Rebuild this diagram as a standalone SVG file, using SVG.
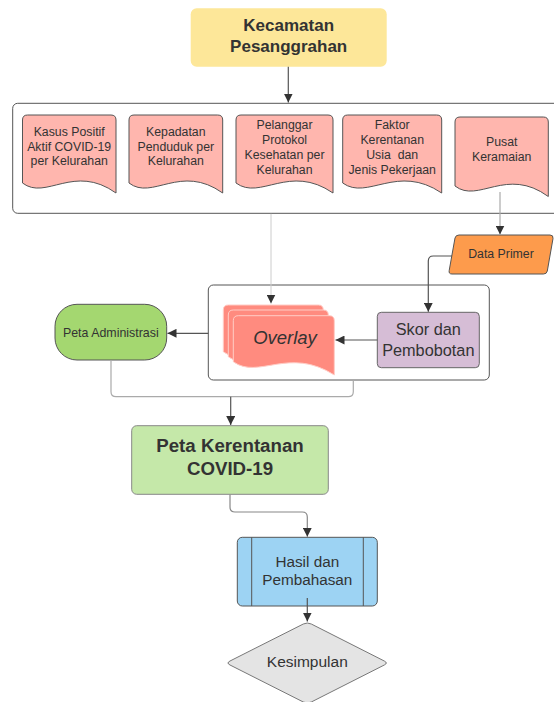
<svg xmlns="http://www.w3.org/2000/svg" width="554" height="702" viewBox="0 0 554 702">
<defs>
<marker id="ah" markerUnits="userSpaceOnUse" markerWidth="10" markerHeight="9" refX="9" refY="4.5" orient="auto">
<path d="M0,0 L9,4.5 L0,9 Z" fill="#333"/>
</marker>
<style>
text{font-family:"Liberation Sans",Arial,sans-serif;fill:#333;text-anchor:middle}
.doc{fill:#ffb6ae;stroke:#555;stroke-width:1}
.dt{font-size:12.3px}
.ov{fill:#ff8b7f;stroke:#ffcdc6;stroke-width:1}
.cont{fill:#fff;stroke:#555;stroke-width:1}
.c{fill:none;stroke:#555;stroke-width:1.2}
.cl{fill:none;stroke:#aaa;stroke-width:1.2}
.cll{fill:none;stroke:#ccc;stroke-width:1}
</style>
</defs>

<g id="container-outer"><rect class="cont" x="12.7" y="103.3" width="560" height="110" rx="5"/></g>
<g id="container-inner"><rect class="cont" x="208.3" y="285" width="281" height="95" rx="5"/></g>

<g id="kecamatan">
<rect x="190.7" y="8.3" width="196" height="58.4" rx="6" fill="#fde799"/>
<text x="288.7" y="31" style="font-size:17px;font-weight:bold">Kecamatan</text>
<text x="288.7" y="52" style="font-size:17px;font-weight:bold">Pesanggrahan</text>
</g>

<g id="doc-kasus">
<path class="doc" d="M22.5,120 Q22.5,115 27.5,115 H111 Q116,115 116,120 V193 C73.9,163 45.9,201 22.5,183 Z"/>
<text class="dt" x="69.2" y="136">Kasus Positif</text>
<text class="dt" x="69.2" y="150.5">Aktif COVID-19</text>
<text class="dt" x="69.2" y="165">per Kelurahan</text>
</g>

<g id="doc-kepadatan">
<path class="doc" d="M129,120 Q129,115 134,115 H217.7 Q222.7,115 222.7,120 V193 C180.5,163 152.4,201 129,183 Z"/>
<text class="dt" x="175.8" y="136">Kepadatan</text>
<text class="dt" x="175.8" y="150.5">Penduduk per</text>
<text class="dt" x="175.8" y="165">Kelurahan</text>
</g>

<g id="doc-pelanggar">
<path class="doc" d="M236,120 Q236,115 241,115 H328 Q333,115 333,120 V193 C289.4,163 260.3,201 236,183 Z"/>
<text class="dt" x="284.5" y="129.3">Pelanggar</text>
<text class="dt" x="284.5" y="144.2">Protokol</text>
<text class="dt" x="284.5" y="159">Kesehatan per</text>
<text class="dt" x="284.5" y="173.8">Kelurahan</text>
</g>

<g id="doc-faktor">
<path class="doc" d="M342.7,120 Q342.7,115 347.7,115 H436.7 Q441.7,115 441.7,120 V193 C397.2,163 367.5,201 342.7,183 Z"/>
<text class="dt" x="392.2" y="129.3">Faktor</text>
<text class="dt" x="392.2" y="144.2">Kerentanan</text>
<text class="dt" x="392.2" y="159" style="white-space:pre">Usia  dan</text>
<text class="dt" x="392.2" y="173.8">Jenis Pekerjaan</text>
</g>

<g id="doc-pusat">
<path class="doc" d="M455,122 Q455,117 460,117 H543.3 Q548.3,117 548.3,122 V196.5 C506.3,166 478.3,204 455,186 Z"/>
<text class="dt" x="501.7" y="146">Pusat</text>
<text class="dt" x="501.7" y="161">Keramaian</text>
</g>

<g id="data-primer">
<path d="M459,235 H550 Q553.5,235 553,238.5 L547.3,271 Q546.7,274 543.5,274 H452 Q448.5,274 449.2,270.5 L455,238 Q455.7,235 459,235 Z" fill="#fd9b4c" stroke="#555" stroke-width="1"/>
<text x="501" y="257.5" style="font-size:12.3px">Data Primer</text>
</g>

<g id="overlay">
<path class="ov" d="M223.3,310 Q223.3,305 228.3,305 H318.3 Q323.3,305 323.3,310 V365 C278.3,336 248.3,370 223.3,351.7 Z"/>
<path class="ov" d="M228.3,315 Q228.3,310 233.3,310 H323.3 Q328.3,310 328.3,315 V370 C283.3,341 253.3,375 228.3,356.7 Z"/>
<path class="ov" d="M233.3,320.7 Q233.3,315.7 238.3,315.7 H329.3 Q334.3,315.7 334.3,320.7 V375 C288.8,346 258.5,380 233.3,361.7 Z"/>
<text x="285" y="343.5" style="font-size:18.5px;font-style:italic">Overlay</text>
</g>

<g id="skor">
<rect x="377.3" y="312.3" width="102" height="55.4" rx="4" fill="#d6bdd6" stroke="#666" stroke-width="1"/>
<text x="428.3" y="335" style="font-size:16.3px">Skor dan</text>
<text x="428.3" y="355.5" style="font-size:16.3px">Pembobotan</text>
</g>

<g id="peta-admin">
<rect x="55" y="304.3" width="111.7" height="55.7" rx="22" fill="#a4d770" stroke="#555" stroke-width="1"/>
<text x="110.8" y="336.5" style="font-size:12.4px">Peta Administrasi</text>
</g>

<g id="peta-kerentanan">
<rect x="131.7" y="425.7" width="196.6" height="68.6" rx="5" fill="#c5e8a9" stroke="#888" stroke-width="1"/>
<text x="230" y="452.3" style="font-size:18.7px;font-weight:bold">Peta Kerentanan</text>
<text x="230" y="475.3" style="font-size:18.7px;font-weight:bold">COVID-19</text>
</g>

<g id="hasil">
<rect x="237.3" y="537.3" width="140" height="68.7" rx="5" fill="#9dd3f3" stroke="#555" stroke-width="1"/>
<line x1="251.7" y1="537.3" x2="251.7" y2="606" stroke="#555" stroke-width="1"/>
<line x1="363.3" y1="537.3" x2="363.3" y2="606" stroke="#555" stroke-width="1"/>
<text x="307.3" y="566.7" style="font-size:15.3px">Hasil dan</text>
<text x="307.3" y="585" style="font-size:15.3px">Pembahasan</text>
</g>

<g id="kesimpulan">
<path d="M303.3,624 Q307.3,622 311.3,624 L384.3,661 Q388.3,663 384.3,665 L311.3,702 Q307.3,704 303.3,702 L230,665 Q226,663 230,661 Z" fill="#e4e4e4" stroke="#777" stroke-width="1"/>
<text x="307.3" y="667" style="font-size:15.5px">Kesimpulan</text>
</g>

<g id="connectors">
<path class="c" d="M288.3,66.7 V102.5" marker-end="url(#ah)"/>
<path class="cll" d="M271,213.8 V303.5" marker-end="url(#ah)"/>
<path class="cl" d="M500,192 V234.5" marker-end="url(#ah)"/>
<path class="c" d="M452,256 H433.3 Q428.3,256 428.3,261 V311.8" marker-end="url(#ah)"/>
<path class="c" d="M377.3,340 H335.5" marker-end="url(#ah)"/>
<path class="c" d="M208.3,333.3 H167.5" marker-end="url(#ah)"/>
<path class="cl" d="M111,360.5 V391.7 Q111,396.7 116,396.7 H348.3 Q353.3,396.7 353.3,391.7 V380.5"/>
<path class="c" d="M230.7,396.7 V425" marker-end="url(#ah)"/>
<path class="cl" style="stroke:#888" d="M230,494.8 V507 Q230,512 235,512 H302.3 Q307.3,512 307.3,517 V536.8" marker-end="url(#ah)"/>
<path class="c" d="M307.3,598 V621.5" marker-end="url(#ah)"/>
</g>
</svg>
